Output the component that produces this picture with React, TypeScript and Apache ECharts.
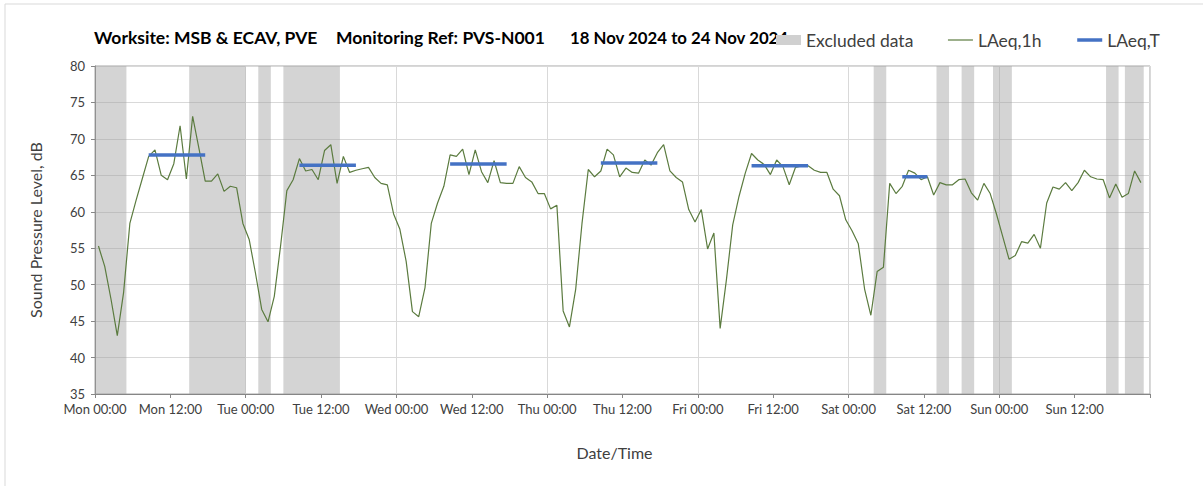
import React, { useEffect, useRef } from "react";
import * as echarts from "echarts";

// ---- Data ----
const xTickLabels = [
  "Mon 00:00", "Mon 12:00", "Tue 00:00", "Tue 12:00", "Wed 00:00", "Wed 12:00",
  "Thu 00:00", "Thu 12:00", "Fri 00:00", "Fri 12:00", "Sat 00:00", "Sat 12:00",
  "Sun 00:00", "Sun 12:00",
];

// hourly LAeq,1h values starting Mon 00:xx
const laeq1h = [
  55.3, 52.5, 48.0, 43.0, 48.9, 58.4, 61.6, 64.6, 67.6, 68.5, 65.0, 64.4,
  66.6, 71.8, 64.5, 73.1, 68.7, 64.2, 64.2, 65.2, 62.8, 63.5, 63.3, 58.4,
  56.2, 51.6, 46.6, 44.9, 48.4, 55.3, 62.9, 64.4, 67.3, 65.6, 65.8, 64.4,
  68.4, 69.2, 63.9, 67.6, 65.4, 65.7, 65.9, 66.1, 64.7, 63.9, 63.7, 59.7,
  57.6, 53.2, 46.3, 45.6, 49.6, 58.4, 61.2, 63.5, 67.8, 67.6, 68.6, 65.1,
  68.5, 65.5, 64.0, 67.0, 64.0, 63.9, 63.9, 66.2, 64.7, 64.1, 62.5, 62.5,
  60.4, 60.9, 46.4, 44.2, 49.4, 58.4, 65.8, 64.8, 65.6, 68.6, 67.8, 64.8,
  66.0, 65.4, 65.3, 67.1, 66.4, 68.1, 69.2, 65.6, 64.7, 64.1, 60.3, 58.6,
  60.3, 54.9, 57.1, 44.0, 50.7, 58.2, 62.1, 65.3, 68.0, 67.1, 66.5, 65.1,
  67.1, 66.2, 63.7, 66.1, 66.3, 66.3, 65.7, 65.4, 65.4, 63.1, 62.2, 58.9,
  57.4, 55.6, 49.4, 45.8, 51.8, 52.4, 63.9, 62.5, 63.5, 65.7, 65.3, 64.4,
  64.8, 62.3, 64.0, 63.7, 63.7, 64.4, 64.5, 62.6, 61.6, 63.9, 62.5, 59.7,
  56.6, 53.5, 54.0, 55.9, 55.7, 56.9, 55.0, 61.2, 63.4, 63.1, 64.0, 62.9,
  64.0, 65.7, 64.8, 64.5, 64.4, 61.9, 63.8, 62.0, 62.5, 65.6, 64.0,
];
const HOUR_OFFSET = 0.55; // sample time within each hour

// LAeq,T daytime periods (hour indexes) and levels
const periodStart = [8, 32, 56, 80, 104, 128];
const periodEnd = [17, 41, 65, 89, 113, 132];
const periodLevel = [67.8, 66.4, 66.55, 66.7, 66.3, 64.8];

// Excluded data windows (hours from Mon 00:00)
const excludedStart = [0, 15, 26, 30, 124, 134, 138, 143, 161, 164];
const excludedEnd = [5, 24, 28, 39, 126, 136, 140, 146, 163, 167];

const Y_MIN = 35;
const Y_MAX = 80;

const FONT = 'Lato, "Open Sans", "Noto Sans", sans-serif';

export default function App() {
  const ref = useRef<HTMLDivElement>(null);

  useEffect(() => {
    if (!ref.current) return;
    const chart = echarts.init(ref.current, null, { renderer: "svg" });

    const lineData = laeq1h.map((v, i) => [i + HOUR_OFFSET, v]);
    const bandData = excludedStart.map((s, i) => [s, excludedEnd[i]]);

    const periodSeries = periodStart.map((s, i) => ({
      name: "LAeq,T",
      type: "line",
      symbol: "none",
      z: 4,
      data: [
        [s + HOUR_OFFSET, periodLevel[i]],
        [periodEnd[i] + HOUR_OFFSET, periodLevel[i]],
      ],
      lineStyle: { color: "#4472c4", width: 3.5 },
      itemStyle: { color: "#4472c4" },
    }));

    const hiddenSymbol = { color: "transparent", opacity: 0, borderWidth: 0 };

    const option: any = {
      animation: false,
      backgroundColor: "#ffffff",
      textStyle: { fontFamily: FONT },
      grid: {
        left: 95,
        right: 53,
        top: 66,
        bottom: 92,
        show: true,
        borderColor: "#a6a6a6",
        borderWidth: 1,
        backgroundColor: "transparent",
      },
      legend: {
        left: 776,
        top: 31,
        padding: 0,
        itemWidth: 25,
        itemHeight: 10,
        itemGap: 34,
        selectedMode: false,
        textStyle: { fontSize: 17.5, color: "#404040", fontFamily: FONT },
        data: [
          { name: "Excluded data", icon: "rect", itemStyle: { color: "#d0d0d0" } },
          { name: "LAeq,1h", itemStyle: hiddenSymbol, lineStyle: { color: "#5b7b3f", width: 1.2 } },
          { name: "LAeq,T", itemStyle: hiddenSymbol, lineStyle: { color: "#4472c4", width: 3.5 } },
        ],
      },
      graphic: [
        {
          type: "rect",
          silent: true,
          z: -10,
          shape: { x: 5, y: 4, width: 1400, height: 700 },
          style: { fill: "none", stroke: "#d9d9d9", lineWidth: 1 },
        },
        {
          type: "text",
          x: 94,
          y: 37,
          z: 1,
          style: {
            text: "Worksite: MSB & ECAV, PVE",
            font: `bold 17.5px ${FONT}`,
            fill: "#000000",
            verticalAlign: "middle",
          },
        },
        {
          type: "text",
          x: 336,
          y: 37,
          z: 1,
          style: {
            text: "Monitoring Ref: PVS-N001",
            font: `bold 17.5px ${FONT}`,
            fill: "#000000",
            verticalAlign: "middle",
          },
        },
        {
          type: "text",
          x: 570,
          y: 37,
          z: 1,
          style: {
            text: "18 Nov 2024 to 24 Nov 2024",
            font: `bold 16.8px ${FONT}`,
            fill: "#000000",
            verticalAlign: "middle",
          },
        },
      ],
      xAxis: [
        {
          type: "value",
          min: 0,
          max: 168,
          interval: 12,
          axisLine: { show: true, lineStyle: { color: "#868686", width: 1 } },
          axisTick: { show: true, length: 4, lineStyle: { color: "#868686" } },
          axisLabel: {
            color: "#404040",
            fontSize: 13,
            margin: 8,
            fontFamily: FONT,
            formatter: (v: number) => {
              const idx = Math.round(v / 12);
              return idx < xTickLabels.length ? xTickLabels[idx] : "";
            },
          },
          splitLine: { show: false },
          name: "Date/Time",
          nameLocation: "middle",
          nameGap: 50,
          nameTextStyle: {
            fontSize: 16,
            color: "#404040",
            fontFamily: FONT,
            padding: [0, 16, 0, 0],
          },
        },
        {
          type: "value",
          min: 0,
          max: 168,
          interval: 24,
          position: "bottom",
          axisLine: { show: false },
          axisTick: { show: false },
          axisLabel: { show: false },
          splitLine: { show: true, lineStyle: { color: "#d9d9d9", width: 1 } },
        },
      ],
      yAxis: {
        type: "value",
        min: Y_MIN,
        max: Y_MAX,
        interval: 5,
        axisLine: { show: true, lineStyle: { color: "#868686", width: 1 } },
        axisTick: { show: true, length: 4, lineStyle: { color: "#868686" } },
        axisLabel: { color: "#404040", fontSize: 13, margin: 10, fontFamily: FONT },
        splitLine: { show: true, lineStyle: { color: "#d9d9d9", width: 1 } },
        name: "Sound Pressure Level, dB",
        nameLocation: "middle",
        nameGap: 52,
        nameTextStyle: { fontSize: 16, color: "#404040", fontFamily: FONT },
      },
      series: [
        {
          name: "Excluded data",
          type: "custom",
          z: 1,
          xAxisIndex: 0,
          itemStyle: { color: "#d0d0d0" },
          dimensions: ["start", "end"],
          encode: { x: ["start", "end"] },
          data: bandData,
          renderItem: (params: any, api: any) => {
            const p1 = api.coord([api.value(0), Y_MAX]);
            const p2 = api.coord([api.value(1), Y_MIN]);
            return {
              type: "rect",
              shape: { x: p1[0], y: p1[1], width: p2[0] - p1[0], height: p2[1] - p1[1] },
              style: { fill: "rgba(160,160,160,0.45)" },
            };
          },
        },
        {
          name: "LAeq,1h",
          type: "line",
          symbol: "none",
          z: 3,
          xAxisIndex: 0,
          data: lineData,
          lineStyle: { color: "#5b7b3f", width: 1.2 },
          itemStyle: { color: "#5b7b3f" },
        },
        ...periodSeries,
      ],
    };

    chart.setOption(option);
    return () => chart.dispose();
  }, []);

  return (
    <div
      ref={ref}
      style={{ position: "fixed", left: 0, top: 0, width: 1203, height: 486, background: "#fff" }}
    />
  );
}
